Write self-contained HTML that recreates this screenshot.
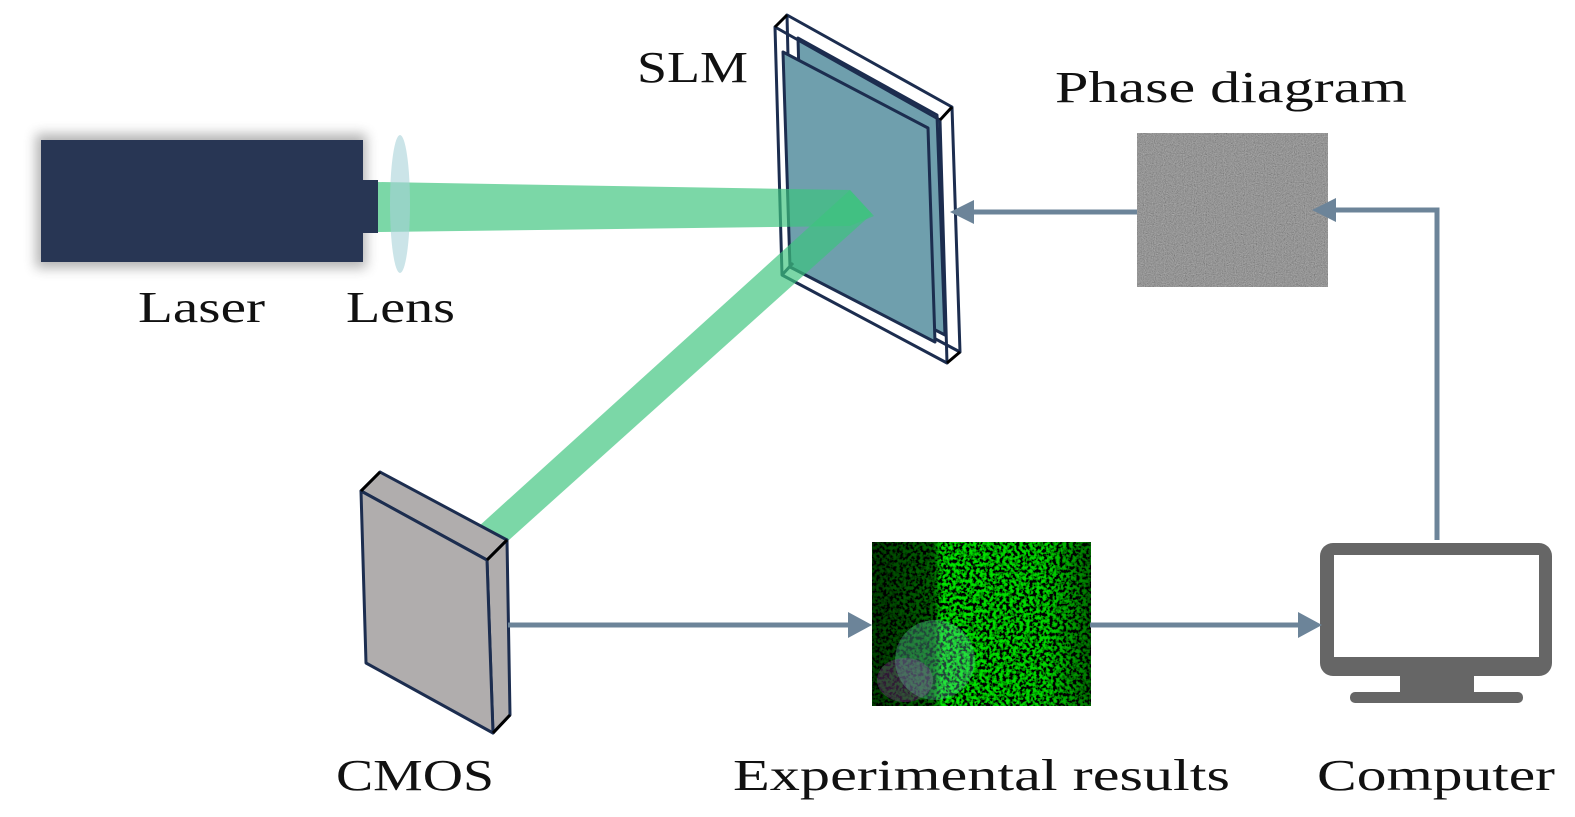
<!DOCTYPE html>
<html><head><meta charset="utf-8"><style>
html,body{margin:0;padding:0;background:#fff;}
svg{display:block;}
text{font-family:"Liberation Serif",serif;font-size:44px;fill:#111;}
</style></head><body>
<svg width="1575" height="817" viewBox="0 0 1575 817" xmlns="http://www.w3.org/2000/svg">
<defs>
<filter id="blur" x="-20%" y="-30%" width="140%" height="160%"><feGaussianBlur stdDeviation="6"/></filter>
<filter id="noise" x="0" y="0" width="100%" height="100%">
<feTurbulence type="fractalNoise" baseFrequency="0.9" numOctaves="2" seed="3"/>
<feColorMatrix type="matrix" values="0.33 0.33 0.33 0 0  0.33 0.33 0.33 0 0  0.33 0.33 0.33 0 0  0 0 0 0 1"/>
<feComponentTransfer><feFuncR type="linear" slope="1.6" intercept="-0.3"/><feFuncG type="linear" slope="1.6" intercept="-0.3"/><feFuncB type="linear" slope="1.6" intercept="-0.3"/></feComponentTransfer>
</filter>
<filter id="gnoise" x="0" y="0" width="100%" height="100%">
<feTurbulence type="fractalNoise" baseFrequency="0.3" numOctaves="2" seed="7"/>
<feColorMatrix type="matrix" values="0 0 0 0 0  0 4 0 0 -1.6  0 0 0 0 0  0 0 0 0 1"/>
</filter>
<linearGradient id="dark" x1="0" y1="0" x2="1" y2="0">
<stop offset="0" stop-color="#000" stop-opacity="0.75"/>
<stop offset="0.28" stop-color="#000" stop-opacity="0.6"/>
<stop offset="0.32" stop-color="#000" stop-opacity="0.1"/>
<stop offset="0.8" stop-color="#000" stop-opacity="0.15"/>
<stop offset="1" stop-color="#000" stop-opacity="0.55"/>
</linearGradient>
</defs>

<!-- Laser -->
<rect x="36" y="134" width="330" height="134" fill="#555" opacity="0.45" filter="url(#blur)"/>
<rect x="41" y="140" width="322" height="122" fill="#283654"/>
<rect x="363" y="180" width="15" height="53" fill="#283654"/>

<!-- SLM -->
<g stroke="#1c2d4f" stroke-width="3" stroke-linejoin="round">
<polygon points="787,15 952,107 960,352 793,263" fill="none"/>
<polygon points="798,38 937,115 945,335 804,262" fill="#6f9fad"/>
<polygon points="783,52 928,128 935,342 790,267" fill="#6f9fad"/>
<polygon points="775,27 940,120 947,363 782,275" fill="none"/>
<line x1="775" y1="27" x2="787" y2="15" stroke="#000"/>
<line x1="940" y1="120" x2="952" y2="107" stroke="#000"/>
<line x1="947" y1="363" x2="960" y2="352" stroke="#000"/>
<line x1="782" y1="275" x2="793" y2="263"/>
</g>

<!-- beams -->
<polygon points="378,182 850,190 874,216 850,226 378,232" fill="#3cc47e" opacity="0.68"/>
<polygon points="478,527 850,190 872,214 500,548" fill="#3cc47e" opacity="0.68"/>
<!-- Lens -->
<ellipse cx="400" cy="204" rx="10" ry="69" fill="#a9d2d8" opacity="0.6"/>

<!-- CMOS -->
<g stroke="#1c2d4f" stroke-width="3" stroke-linejoin="round" fill="#b0adad">
<polygon points="361,491 380,472 507,540 487,560"/>
<polygon points="487,560 507,540 510,715 493,733"/>
<polygon points="361,491 487,560 493,733 366,663"/>
<line x1="361" y1="491" x2="380" y2="472" stroke="#000"/>
<line x1="487" y1="560" x2="507" y2="540" stroke="#000"/>
<line x1="493" y1="733" x2="510" y2="715" stroke="#000"/>
</g>

<!-- Phase diagram -->
<rect x="1137" y="133" width="191" height="154" fill="#777"/>
<rect x="1137" y="133" width="191" height="154" filter="url(#noise)" opacity="0.45"/>

<!-- Experimental results -->
<rect x="872" y="542" width="219" height="164" fill="#000"/>
<rect x="872" y="542" width="219" height="164" filter="url(#gnoise)"/>
<rect x="872" y="542" width="219" height="164" fill="url(#dark)"/>
<ellipse cx="935" cy="660" rx="40" ry="40" fill="#70e0c0" opacity="0.3"/>
<ellipse cx="905" cy="680" rx="28" ry="22" fill="#a050b0" opacity="0.3"/>

<!-- Computer -->
<rect x="1320" y="543" width="232" height="133" rx="13" fill="#666"/>
<rect x="1334" y="555" width="205" height="102" fill="#fff"/>
<rect x="1400" y="675" width="74" height="20" fill="#666"/>
<rect x="1350" y="692" width="173" height="11" rx="5" fill="#666"/>

<!-- Arrows -->
<g stroke="#6c8499" stroke-width="5" fill="none">
<line x1="1137" y1="212" x2="970" y2="212"/>
<polyline points="1437,540 1437,210 1335,210"/>
<line x1="508" y1="625" x2="850" y2="625"/>
<line x1="1090" y1="625" x2="1300" y2="625"/>
</g>
<g fill="#6c8499">
<polygon points="950,212 974,200 974,224"/>
<polygon points="1312,210 1336,198 1336,222"/>
<polygon points="872,625 848,612 848,638"/>
<polygon points="1322,625 1298,612 1298,638"/>
</g>

<!-- Labels -->
<text x="637" y="82" textLength="111" lengthAdjust="spacingAndGlyphs">SLM</text>
<text x="1055" y="102" textLength="352" lengthAdjust="spacingAndGlyphs">Phase diagram</text>
<text x="138" y="322" textLength="127" lengthAdjust="spacingAndGlyphs">Laser</text>
<text x="346" y="322" textLength="109" lengthAdjust="spacingAndGlyphs">Lens</text>
<text x="336" y="790" textLength="158" lengthAdjust="spacingAndGlyphs">CMOS</text>
<text x="733" y="790" textLength="497" lengthAdjust="spacingAndGlyphs">Experimental results</text>
<text x="1317" y="790" textLength="238" lengthAdjust="spacingAndGlyphs">Computer</text>
</svg>
</body></html>
